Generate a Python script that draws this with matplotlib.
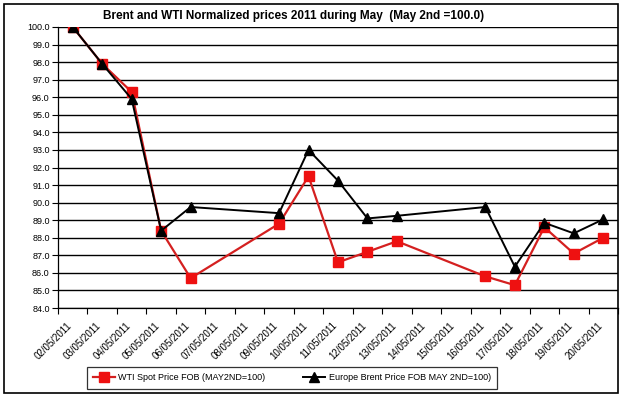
import numpy as np
import matplotlib.pyplot as plt
import matplotlib.transforms as mtransforms
from matplotlib.patches import Rectangle

plt.rcParams['font.family'] = ['Liberation Sans', 'DejaVu Sans']

dates = ['02/05/2011', '03/05/2011', '04/05/2011', '05/05/2011', '06/05/2011',
         '07/05/2011', '08/05/2011', '09/05/2011', '10/05/2011', '11/05/2011',
         '12/05/2011', '13/05/2011', '14/05/2011', '15/05/2011', '16/05/2011',
         '17/05/2011', '18/05/2011', '19/05/2011', '20/05/2011']
nan = np.nan
wti = [100.0, 97.9, 96.3, 88.4, 85.7, nan, nan, 88.8, 91.5, 86.6,
       87.2, 87.8, nan, nan, 85.8, 85.3, 88.6, 87.1, 88.0]
brent = [100.0, 97.9, 95.9, 88.4, 89.75, nan, nan, 89.4, 93.0, 91.25,
         89.1, 89.25, nan, nan, 89.75, 86.35, 88.85, 88.25, 89.05]

W, H = 621, 396
fig = plt.figure(figsize=(W / 100, H / 100), dpi=100)
fig.patch.set_facecolor('white')

# plot area in pixels
left, right, top, bottom = 58, 618, 27, 308
ax = fig.add_axes([left / W, (H - bottom) / H, (right - left) / W, (bottom - top) / H])

x = np.arange(len(dates))
wti = np.array(wti)
brent = np.array(brent)
mw = ~np.isnan(wti)
mb = ~np.isnan(brent)

ax.plot(x[mw], wti[mw], '-', color='#D42020', lw=1.6, marker='s', ms=6.5,
        mfc='#EE1111', mec='#EE1111', label='WTI Spot Price FOB (MAY2ND=100)', zorder=3)
ax.plot(x[mb], brent[mb], '-', color='black', lw=1.4, marker='^', ms=7,
        mfc='black', mec='black', label='Europe Brent Price FOB MAY 2ND=100)', zorder=4)

step = 544 / 18.0
ax.set_xlim(-0.5, -0.5 + (right - left) / step)
ax.set_ylim(84, 100)
ax.set_yticks(np.arange(84, 100.5, 1))
ax.set_yticklabels(['%.1f' % v for v in np.arange(84, 100.5, 1)], fontsize=6.5)
ax.yaxis.grid(True, color='black', lw=1.0)
ax.set_axisbelow(True)

ax.set_xticks(x)
ax.set_xticklabels(dates, rotation=45, ha='right', rotation_mode='anchor', fontsize=7)
ax.set_xticks(np.arange(-0.5, 19, 1), minor=True)
ax.tick_params(axis='x', which='major', length=0, pad=9)
ax.tick_params(axis='x', which='minor', length=4, width=0.8)
ax.tick_params(axis='y', length=4, width=0.8, pad=2)
shift = mtransforms.ScaledTranslation(-6 / 100, 0, fig.dpi_scale_trans)
for lab in ax.get_xticklabels():
    lab.set_transform(lab.get_transform() + shift)

for s in ['top', 'right']:
    ax.spines[s].set_visible(False)
for s in ['left', 'bottom']:
    ax.spines[s].set_linewidth(0.9)

fig.text(294 / W, 1 - 16 / H, 'Brent and WTI Normalized prices 2011 during May  (May 2nd =100.0)',
         ha='center', va='center', fontsize=8.5, fontweight='bold')

leg = fig.legend(loc='center', bbox_to_anchor=(292 / W, 1 - 378 / H), ncol=2, fontsize=6.5,
                 frameon=True, fancybox=False, edgecolor='black', handlelength=2.4,
                 columnspacing=4.2, borderpad=0.7, handletextpad=0.4)
leg.get_frame().set_linewidth(0.9)

fig.patches.append(Rectangle((4 / W, 1 - 393 / H), 614 / W, 389 / H, transform=fig.transFigure,
                             fill=False, edgecolor='black', lw=1.2))

fig.savefig('out.png', dpi=100)
